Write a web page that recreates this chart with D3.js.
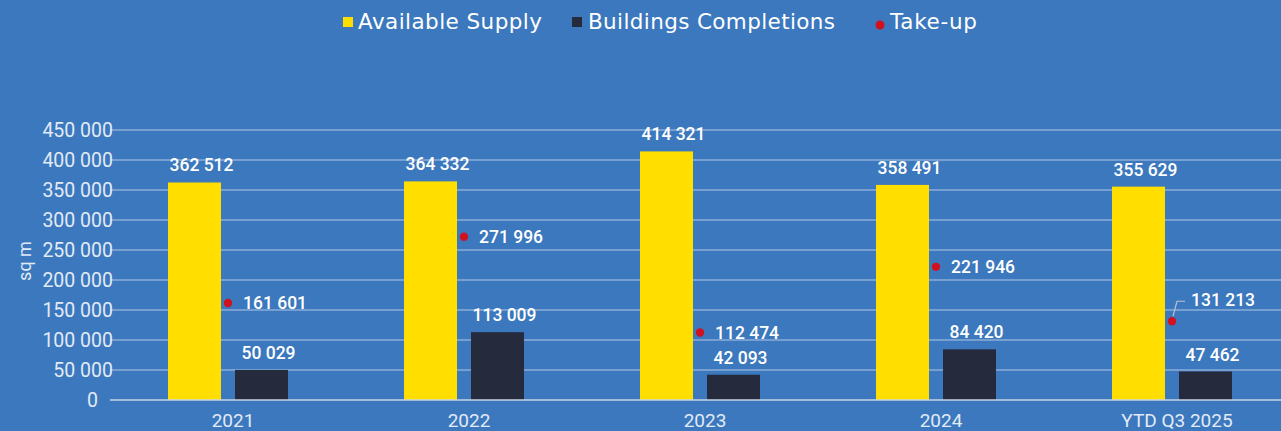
<!DOCTYPE html>
<html><head><meta charset="utf-8">
<script src="https://cdn.jsdelivr.net/npm/d3@7/dist/d3.min.js"></script>
<style>
html,body{margin:0;padding:0;background:#3b78bd;}
svg{display:block;}
</style></head>
<body>
<svg id="chart" width="1281" height="431"></svg>
<script>
const categories = ["2021", "2022", "2023", "2024", "YTD Q3 2025"];
const availableSupply = [362512, 364332, 414321, 358491, 355629];
const completions = [50029, 113009, 42093, 84420, 47462];
const takeUp = [161601, 271996, 112474, 221946, 131213];
const yTicks = [0, 50000, 100000, 150000, 200000, 250000, 300000, 350000, 400000, 450000];
const seriesNames = ["Available Supply", "Buildings Completions", "Take-up"];

const fmt = v => d3.format(",")(v).replace(/,/g, " ");

const svg = d3.select("#chart");
const W = 1281, H = 431;
svg.append("rect").attr("width", W).attr("height", H).attr("fill", "#3b78bd");

const x = d3.scaleBand().domain(categories).range([110, 1290]).padding(0);
const y = d3.scaleLinear().domain([0, 450000]).range([400, 130]);

const dataFont = "Roboto, 'Liberation Sans', sans-serif";

// gridlines
svg.append("g").selectAll("line").data(yTicks.filter(d => d > 0)).join("line")
  .attr("x1", 110).attr("x2", W).attr("y1", d => y(d)).attr("y2", d => y(d))
  .attr("stroke", "#8cadd9").attr("stroke-width", 1.3);

// y axis labels
const yAxis = d3.axisLeft(y).tickValues(yTicks).tickSize(0).tickPadding(0).tickFormat(fmt);
const gy = svg.append("g").attr("transform", "translate(113,0)").call(yAxis);
gy.select(".domain").remove();
gy.selectAll("text").attr("fill", "#e2eaf6").style("font-family", dataFont).style("font-size", "19.5px")
  .style("font-weight", 400)
  .attr("dx", d => d === 0 ? -15 : 0);

// y axis title
svg.append("text").attr("transform", "translate(31,261) rotate(-90)")
  .attr("text-anchor", "middle").attr("fill", "#e2eaf6")
  .style("font-family", dataFont).style("font-size", "18px").style("font-weight", 400).text("sq m");

const bw = 53, gap = 7;
const cx = c => x(c) + x.bandwidth() / 2;

// yellow bars
svg.append("g").selectAll("rect").data(categories).join("rect")
  .attr("x", c => cx(c) - gap - bw).attr("width", bw)
  .attr("y", (c, i) => y(availableSupply[i])).attr("height", (c, i) => y(0) - y(availableSupply[i]))
  .attr("fill", "#ffde00");
// dark bars
svg.append("g").selectAll("rect").data(categories).join("rect")
  .attr("x", c => cx(c) + gap).attr("width", bw)
  .attr("y", (c, i) => y(completions[i])).attr("height", (c, i) => y(0) - y(completions[i]))
  .attr("fill", "#252a3d");

// baseline
svg.append("line").attr("x1", 110).attr("x2", W).attr("y1", y(0)).attr("y2", y(0))
  .attr("stroke", "#c9d5e6").attr("stroke-width", 1.5);

// x axis labels
svg.append("g").selectAll("text").data(categories).join("text")
  .attr("x", c => cx(c) + 5).attr("y", 427).attr("text-anchor", "middle")
  .attr("fill", "#e2eaf6").style("font-family", dataFont).style("font-size", "19px")
  .style("font-weight", 400).text(c => c);

const labelStyle = sel => sel.attr("fill", "#ffffff")
  .style("font-family", dataFont).style("font-size", "17.5px").style("font-weight", 500);

// value labels on bars
svg.append("g").selectAll("text").data(categories).join("text")
  .attr("x", c => cx(c) - gap - bw / 2 + 7).attr("y", (c, i) => y(availableSupply[i]) - 11)
  .attr("text-anchor", "middle").call(labelStyle)
  .text((c, i) => fmt(availableSupply[i]));
svg.append("g").selectAll("text").data(categories).join("text")
  .attr("x", c => cx(c) + gap + bw / 2 + 7).attr("y", (c, i) => y(completions[i]) - 11)
  .attr("text-anchor", "middle").call(labelStyle)
  .text((c, i) => fmt(completions[i]));

// take-up points
const last = categories.length - 1;
svg.append("g").selectAll("path").data([last]).join("path")
  .attr("d", i => {
    const px = cx(categories[i]), py = y(takeUp[i]);
    return `M${px + 1},${py - 5} L${px + 5},${py - 20} L${px + 13},${py - 20}`;
  })
  .attr("fill", "none").attr("stroke", "#b9c3cf").attr("stroke-width", 1.2);

svg.append("g").selectAll("circle").data(categories).join("circle")
  .attr("cx", c => cx(c)).attr("cy", (c, i) => y(takeUp[i])).attr("r", 4.2)
  .attr("fill", "#d0121f");
svg.append("g").selectAll("text").data(categories).join("text")
  .attr("x", (c, i) => cx(c) + (i === last ? 19 : 15))
  .attr("y", (c, i) => y(takeUp[i]) + (i === last ? -21 : 0))
  .attr("dy", "0.35em").call(labelStyle)
  .text((c, i) => fmt(takeUp[i]));

// legend
const legFont = "'DejaVu Sans', sans-serif";
const lg = svg.append("g");
const legItems = [
  { name: seriesNames[0], color: "#ffde00", type: "rect", x: 343, tx: 358, w: 184 },
  { name: seriesNames[1], color: "#252a3d", type: "rect", x: 572, tx: 588, w: 247 },
  { name: seriesNames[2], color: "#d0121f", type: "circle", x: 880, tx: 890, w: 87 }
];
legItems.forEach(d => {
  if (d.type === "rect") {
    lg.append("rect").attr("x", d.x).attr("y", 17).attr("width", 10).attr("height", 10).attr("fill", d.color);
  } else {
    lg.append("circle").attr("cx", d.x).attr("cy", 25).attr("r", 4.5).attr("fill", d.color);
  }
  lg.append("text").attr("x", d.tx).attr("y", 29)
    .attr("fill", "#ffffff").style("font-family", legFont).style("font-size", "21.5px")
    .attr("textLength", d.w).attr("lengthAdjust", "spacing")
    .text(d.name);
});
</script>
</body></html>
